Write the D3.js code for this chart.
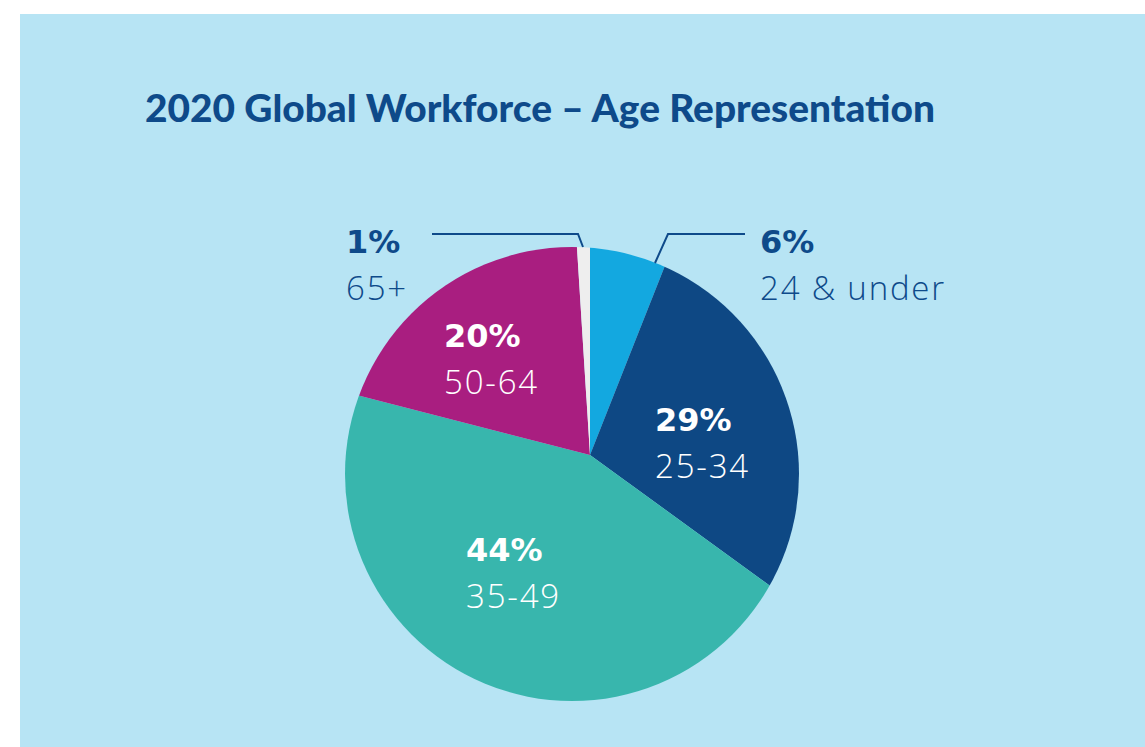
<!doctype html>
<html lang="en">
<head>
<meta charset="utf-8">
<style>
  body { margin: 0; background: #fff; }
  svg { display: block; }
  .title { font-family: Lato, "Open Sans", sans-serif; font-weight: 900; fill: #0e4a8a; }
  .pct { font-family: "DejaVu Sans", sans-serif; font-weight: 700; font-size: 32px; }
  .cat { font-family: "Open Sans", Lato, sans-serif; font-weight: 300; font-size: 33px; letter-spacing: 1.8px; }
</style>
<script src="https://d3js.org/d3.v7.min.js"></script>
</head>
<body>
<svg width="1145" height="747"></svg>
<script>
const categories = ["24 & under", "25-34", "35-49", "50-64", "65+"];
const values = [6, 29, 44, 20, 1];
const colors = ["#13a8e0", "#0e4884", "#38b6ad", "#a91e80", "#eeeeee"];

// label placement (layout only)
const inside = {
  "25-34": [655, 431],
  "35-49": [466, 561],
  "50-64": [444, 347]
};
const outside = {
  "24 & under": { text: [760, 253], line: [[745, 234], [668, 234], [655, 263]] },
  "65+": { text: [346, 253], line: [[432, 234], [578, 234], [583, 247]] }
};

const svg = d3.select("svg");

svg.append("rect")
  .attr("x", 20).attr("y", 14)
  .attr("width", 1125).attr("height", 733)
  .attr("fill", "#b7e4f4");

const title = svg.append("text")
  .attr("class", "title")
  .attr("x", 145).attr("y", 122)
  .style("font-size", "34px")
  .text("2020 Global Workforce \u2013 Age Representation");
// fit the title to the reference width
const tw = title.node().getComputedTextLength();
title.style("font-size", (34 * 790 / tw) + "px");

const data = categories.map((c, i) => ({ cat: c, value: values[i], color: colors[i] }));

const pie = d3.pie().sort(null).value(d => d.value);
const arc = d3.arc().innerRadius(0).outerRadius(320);

svg.append("clipPath").attr("id", "disc")
  .append("circle")
  .attr("cx", 572).attr("cy", 474).attr("r", 227);

svg.append("g")
  .attr("clip-path", "url(#disc)")
  .append("g")
  .attr("transform", "translate(590,455)")
  .selectAll("path")
  .data(pie(data))
  .join("path")
  .attr("d", arc)
  .attr("fill", d => d.data.color);

data.forEach(d => {
  if (inside[d.cat]) {
    const [x, y] = inside[d.cat];
    svg.append("text").attr("class", "pct").attr("x", x).attr("y", y)
      .attr("fill", "#fff").text(d.value + "%");
    svg.append("text").attr("class", "cat").attr("x", x).attr("y", y + 47)
      .attr("fill", "#fff").text(d.cat);
  } else if (outside[d.cat]) {
    const o = outside[d.cat];
    svg.append("path")
      .attr("d", d3.line()(o.line))
      .attr("fill", "none")
      .attr("stroke", "#0e4a8a")
      .attr("stroke-width", 2);
    svg.append("text").attr("class", "pct").attr("x", o.text[0]).attr("y", o.text[1])
      .attr("fill", "#0e4a8a").text(d.value + "%");
    svg.append("text").attr("class", "cat").attr("x", o.text[0]).attr("y", o.text[1] + 47)
      .attr("fill", "#0e4a8a").text(d.cat);
  }
});
</script>
</body>
</html>
